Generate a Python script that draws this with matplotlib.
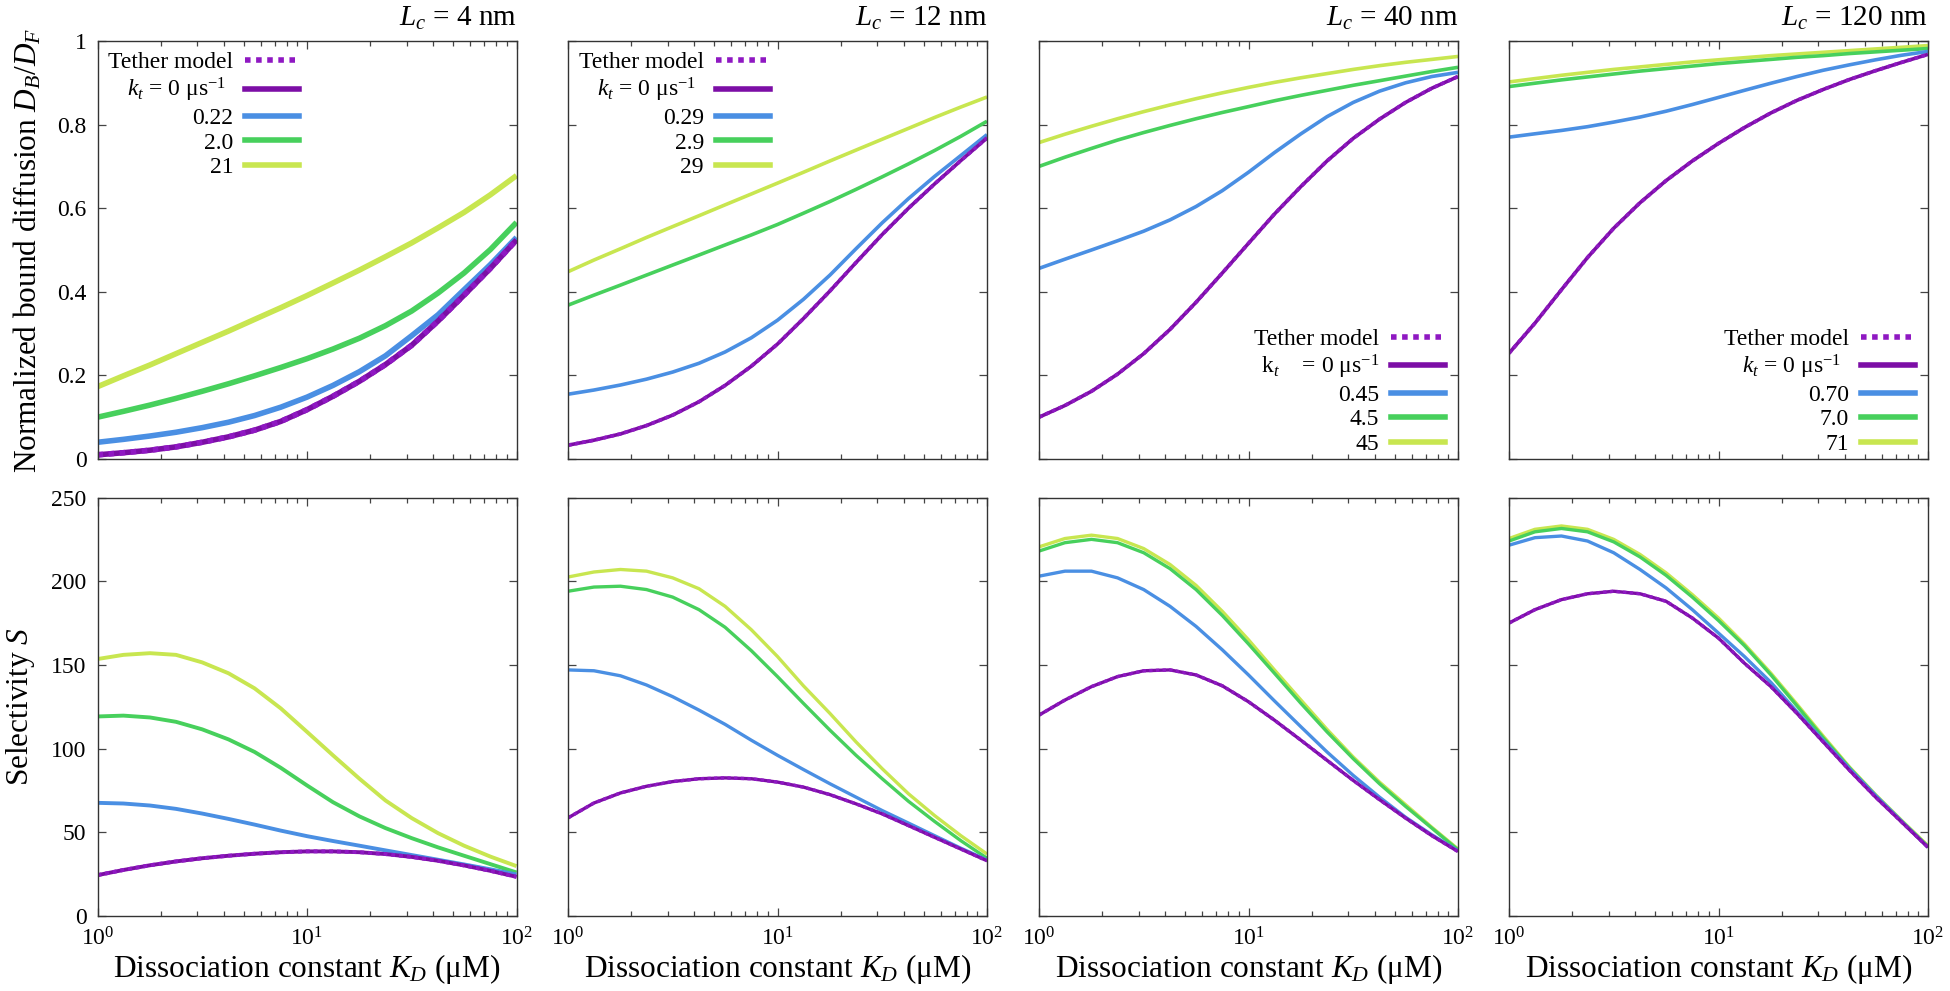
import matplotlib
matplotlib.use("Agg")
import matplotlib.pyplot as plt
from matplotlib.lines import Line2D
from matplotlib.ticker import LogLocator, NullFormatter

plt.rcParams['font.family'] = 'serif'
plt.rcParams['font.serif'] = ['Liberation Serif', 'DejaVu Serif']
plt.rcParams['mathtext.fontset'] = 'custom'
plt.rcParams['mathtext.rm'] = 'Liberation Serif'
plt.rcParams['mathtext.it'] = 'Liberation Serif:italic'
plt.rcParams['mathtext.bf'] = 'Liberation Serif:bold'

# ---------------- data ----------------
KD = [1.0, 1.33, 1.78, 2.37, 3.16, 4.22, 5.62, 7.50, 10.0, 13.3, 17.8, 23.7, 31.6, 42.2, 56.2, 75.0, 100.0]

titles = [r"$L_c$ = 4 nm", r"$L_c$ = 12 nm", r"$L_c$ = 40 nm", r"$L_c$ = 120 nm"]

legend_labels = [
    ["Tether model", r"$k_t$ = 0 μs$^{-1}$  ", "0.22", "2.0", "21"],
    ["Tether model", r"$k_t$ = 0 μs$^{-1}$  ", "0.29", "2.9", "29"],
    ["Tether model", r"k$_t$    = 0 μs$^{-1}$", "0.45", "4.5", "45"],
    ["Tether model", r"$k_t$ = 0 μs$^{-1}$  ", "0.70", "7.0", "71"],
]

# Normalized bound diffusion D_B/D_F (top row); k_t increasing: k0, k1, k2, k3
db4_k0 = [.010, .015, .021, .029, .040, .053, .069, .090, .118, .150, .186, .226, .272, .330, .392, .456, .524]
db4_k1 = [.040, .047, .055, .064, .075, .088, .104, .124, .148, .176, .209, .247, .295, .345, .405, .465, .530]
db4_k2 = [.100, .114, .129, .145, .162, .180, .199, .219, .240, .263, .289, .319, .354, .397, .445, .501, .566]
db4_k3 = [.173, .199, .225, .252, .279, .306, .334, .362, .391, .421, .452, .484, .517, .553, .590, .632, .678]

db12_k0 = [.033, .045, .060, .080, .105, .137, .176, .222, .275, .336, .402, .470, .537, .600, .658, .714, .768]
db12_k1 = [.155, .165, .177, .191, .208, .229, .256, .290, .332, .382, .440, .503, .565, .623, .676, .726, .776]
db12_k2 = [.368, .392, .416, .440, .464, .488, .512, .536, .561, .588, .616, .645, .675, .706, .738, .772, .808]
db12_k3 = [.448, .476, .503, .530, .556, .582, .608, .634, .660, .686, .713, .739, .765, .791, .817, .842, .866]

db40_k0 = [.100, .128, .162, .203, .252, .310, .375, .445, .516, .586, .652, .713, .767, .813, .853, .887, .915]
db40_k1 = [.456, .478, .500, .522, .545, .572, .604, .642, .686, .733, .778, .819, .853, .880, .900, .915, .925]
db40_k2 = [.700, .722, .743, .763, .781, .798, .814, .829, .843, .857, .870, .882, .894, .905, .916, .927, .937]
db40_k3 = [.757, .777, .796, .814, .831, .847, .862, .876, .889, .901, .912, .922, .932, .941, .949, .956, .963]

db120_k0 = [.253, .325, .405, .482, .552, .613, .666, .713, .755, .793, .828, .858, .884, .908, .929, .949, .968]
db120_k1 = [.770, .778, .786, .795, .806, .818, .832, .848, .865, .882, .899, .915, .930, .943, .955, .966, .975]
db120_k2 = [.891, .899, .907, .914, .921, .928, .934, .940, .946, .951, .956, .961, .965, .970, .974, .978, .982]
db120_k3 = [.902, .910, .918, .925, .932, .938, .944, .950, .955, .960, .965, .969, .973, .977, .981, .985, .989]

# Selectivity S (bottom row)
s4_k0 = [24.4, 27.5, 30.3, 32.6, 34.5, 36.0, 37.2, 38.1, 38.6, 38.6, 38.1, 37.0, 35.3, 33.0, 30.2, 27.0, 23.4]
s4_k1 = [67.6, 67.2, 66.0, 64.0, 61.2, 58.0, 54.6, 51.0, 47.7, 44.8, 42.0, 39.2, 36.4, 33.6, 30.8, 27.9, 24.8]
s4_k2 = [119.2, 119.7, 118.6, 116.0, 111.5, 105.5, 98.0, 88.5, 78.0, 68.0, 59.5, 52.5, 46.5, 41.0, 36.0, 31.0, 26.0]
s4_k3 = [153.5, 156.0, 157.0, 156.0, 151.5, 145.0, 136.0, 124.0, 110.0, 96.0, 82.0, 69.0, 58.5, 49.5, 42.0, 35.5, 29.8]

s12_k0 = [58.6, 67.5, 73.5, 77.5, 80.3, 82.0, 82.5, 82.0, 80.0, 77.0, 72.5, 67.0, 61.0, 54.0, 47.0, 40.0, 33.0]
s12_k1 = [147.0, 146.5, 143.5, 138.0, 131.0, 123.0, 114.5, 105.0, 96.0, 87.5, 79.0, 71.0, 63.0, 55.5, 48.0, 40.5, 33.5]
s12_k2 = [194.0, 196.5, 197.0, 195.0, 190.5, 183.0, 172.5, 158.5, 143.0, 127.0, 111.0, 96.0, 82.0, 68.5, 56.5, 45.0, 34.5]
s12_k3 = [202.5, 205.5, 207.0, 206.0, 202.0, 195.5, 185.0, 171.0, 155.0, 137.5, 121.0, 104.0, 88.0, 73.0, 60.0, 48.0, 37.0]

s40_k0 = [120.0, 129.0, 137.0, 143.0, 146.5, 147.0, 144.0, 137.5, 128.0, 117.0, 105.0, 93.0, 81.0, 69.5, 58.5, 48.0, 38.5]
s40_k1 = [203.0, 206.0, 206.0, 202.0, 195.0, 185.0, 173.0, 159.0, 144.0, 128.5, 113.0, 98.0, 84.0, 71.0, 59.0, 48.5, 39.0]
s40_k2 = [218.0, 223.0, 225.0, 223.0, 217.0, 207.5, 195.0, 179.5, 162.5, 145.0, 127.0, 110.0, 94.0, 79.0, 65.5, 52.5, 39.5]
s40_k3 = [220.5, 225.5, 227.5, 225.5, 219.5, 210.0, 197.5, 182.0, 165.0, 147.0, 129.0, 111.5, 95.0, 80.0, 66.5, 53.0, 40.0]

s120_k0 = [175.0, 183.0, 189.0, 192.5, 194.0, 192.5, 188.0, 178.0, 166.0, 151.0, 137.0, 121.0, 104.0, 87.0, 71.0, 56.0, 41.0]
s120_k1 = [221.5, 226.0, 227.0, 224.0, 217.0, 207.0, 196.0, 183.0, 169.0, 155.0, 139.5, 122.0, 105.0, 88.0, 72.0, 56.5, 41.0]
s120_k2 = [224.0, 229.5, 231.5, 229.5, 223.5, 214.5, 203.5, 190.5, 176.5, 161.5, 144.0, 125.5, 106.5, 88.5, 72.0, 56.5, 41.5]
s120_k3 = [225.5, 231.0, 233.0, 231.0, 225.0, 216.0, 205.0, 192.0, 178.0, 162.5, 145.0, 126.5, 107.5, 89.0, 72.5, 57.0, 42.0]

top_data = [
    [db4_k0, db4_k1, db4_k2, db4_k3],
    [db12_k0, db12_k1, db12_k2, db12_k3],
    [db40_k0, db40_k1, db40_k2, db40_k3],
    [db120_k0, db120_k1, db120_k2, db120_k3],
]
bot_data = [
    [s4_k0, s4_k1, s4_k2, s4_k3],
    [s12_k0, s12_k1, s12_k2, s12_k3],
    [s40_k0, s40_k1, s40_k2, s40_k3],
    [s120_k0, s120_k1, s120_k2, s120_k3],
]

db_ticks = [0, 0.2, 0.4, 0.6, 0.8, 1.0]
db_ticklabels = ["0", "0.2", "0.4", "0.6", "0.8", "1"]
s_ticks = [0, 50, 100, 150, 200, 250]
s_ticklabels = ["0", "50", "100", "150", "200", "250"]

# ---------------- style ----------------
COL_PURPLE = "#7c0ea6"
COL_TETHER = "#8f18c2"
COL_BLUE = "#4a8fe3"
COL_GREEN = "#47d05c"
COL_LIME = "#c8e650"
series_colors = [COL_PURPLE, COL_BLUE, COL_GREEN, COL_LIME]

W, H = 1950, 991
lefts = [97.5, 568, 1039, 1509]
aw = 419
rows = [(41, 459), (497.5, 916)]

fig = plt.figure(figsize=(W / 100, H / 100), dpi=100)

TICK_FS = 17
LABEL_FS = 22.5
LEG_FS = 17


def style_axes(ax):
    ax.set_xscale('log')
    ax.set_xlim(1, 100)
    ax.xaxis.set_major_locator(LogLocator(base=10, numticks=5))
    ax.xaxis.set_minor_locator(LogLocator(base=10, subs=range(2, 10), numticks=20))
    ax.xaxis.set_minor_formatter(NullFormatter())
    ax.tick_params(which='both', direction='in', top=True, right=True,
                   color='#444444', width=0.9, labelsize=TICK_FS)
    ax.tick_params(which='major', length=6, pad=8)
    ax.tick_params(which='minor', length=3.5)
    for sp in ax.spines.values():
        sp.set_color('#333333')
        sp.set_linewidth(1.0)


for r, (y0, y1) in enumerate(rows):
    for c in range(4):
        ax = fig.add_axes([lefts[c] / W, 1 - y1 / H, aw / W, (y1 - y0) / H])
        style_axes(ax)
        data = top_data[c] if r == 0 else bot_data[c]
        if r == 0:
            lw = 4.0 if c == 0 else 2.6
        else:
            lw = 2.8 if c == 0 else 2.4
        for k in (3, 2, 1, 0):
            ax.plot(KD, data[k], color=series_colors[k], lw=lw, solid_capstyle='butt',
                    solid_joinstyle='round')
        ax.plot(KD, data[0], color=COL_TETHER, lw=lw, linestyle=(0, (1, 1)))

        if r == 0:
            ax.set_ylim(0, 1)
            ax.set_yticks(db_ticks)
            ax.set_yticklabels(db_ticklabels)
            ax.tick_params(labelbottom=False)
            ax.set_title(titles[c], loc='right', fontsize=21, pad=11)
            handles = [Line2D([], [], color=COL_TETHER, lw=4, linestyle=(0, (1, 1)))] + \
                      [Line2D([], [], color=col, lw=4) for col in series_colors]
            common = dict(frameon=False, markerfirst=False, fontsize=LEG_FS,
                          handlelength=2.3, handletextpad=0.5, labelspacing=0.13)
            if c < 2:
                ax.legend(handles, legend_labels[c], loc='upper left',
                          borderpad=0.2, borderaxespad=0.25, **common)
            else:
                ax.legend(handles, legend_labels[c], loc='lower right',
                          bbox_to_anchor=(0.975, 0.004), borderpad=0.1,
                          borderaxespad=0.0, **common)
            if c == 0:
                ax.set_ylabel(r"Normalized bound diffusion $D_B/D_F$", fontsize=LABEL_FS, labelpad=10)
        else:
            ax.set_ylim(0, 250)
            ax.set_yticks(s_ticks)
            ax.set_yticklabels(s_ticklabels)
            ax.set_xlabel(r"Dissociation constant $K_D$ (μM)", fontsize=LABEL_FS, labelpad=1)
            if c == 0:
                ax.set_ylabel(r"Selectivity $S$", fontsize=LABEL_FS, labelpad=10)
        if c > 0:
            ax.tick_params(labelleft=False)

fig.savefig("out.png", dpi=100)
